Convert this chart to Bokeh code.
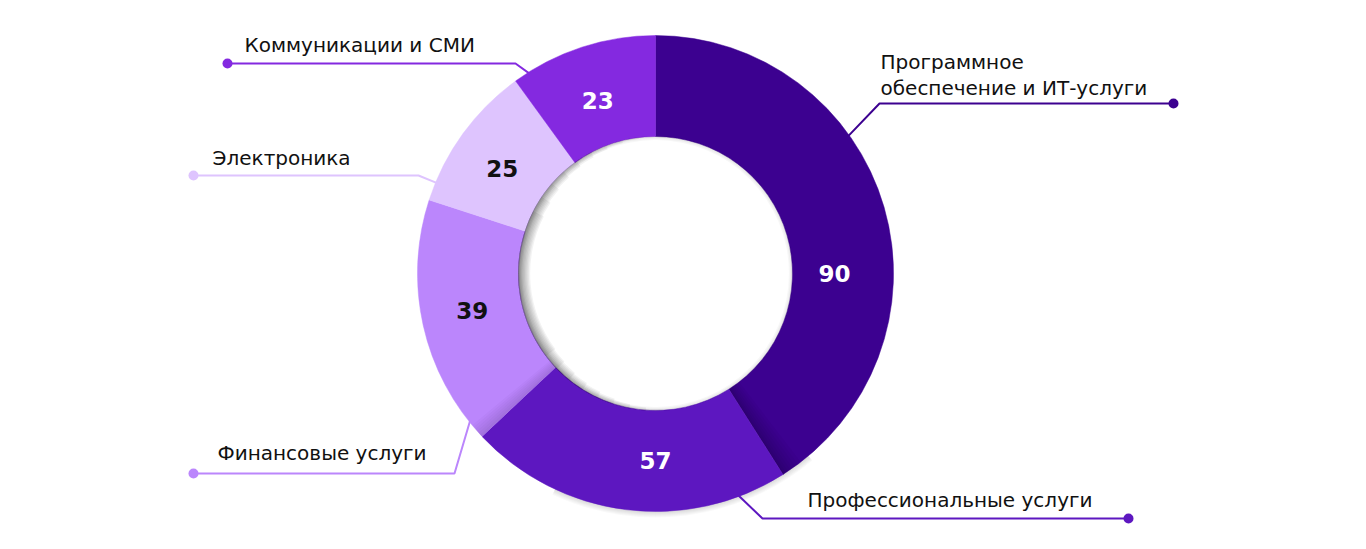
import math
from bokeh.plotting import figure
from bokeh.models import Range1d
from bokeh.embed import file_html
from bokeh.resources import INLINE
from bokeh.core.properties import value

# ---------------- data ----------------
categories = [
    "Программное\nобеспечение и ИТ-услуги",
    "Профессиональные услуги",
    "Финансовые услуги",
    "Электроника",
    "Коммуникации и СМИ",
]
values = [90, 57, 39, 25, 23]
# share of the ring occupied by each slice (percent)
shares = [41, 22, 17, 10, 10]
colors = ["#3C0190", "#5D17C0", "#BB86FC", "#DEC4FE", "#8429E0"]
value_text_colors = ["#FFFFFF", "#FFFFFF", "#111111", "#111111", "#FFFFFF"]

# ---------------- layout ----------------
W, H = 1366, 549
CX, CY = 655, H - 273
R_OUT, R_IN = 238, 137
FONT = "DejaVu Sans"

def py(y):
    return H - y

p = figure(width=W, height=H, x_range=Range1d(0, W), y_range=Range1d(0, H),
           output_backend="svg", toolbar_location=None,
           x_axis_type=None, y_axis_type=None, min_border=0)
p.outline_line_color = None
p.grid.visible = False
p.background_fill_color = "#FFFFFF"
p.border_fill_color = "#FFFFFF"

# slice angles: clockwise from 12 o'clock
starts, ends = [], []
acc = 0.0
tot = float(sum(shares))
for s in shares:
    a0 = 90 - acc / tot * 360
    acc += s
    a1 = 90 - acc / tot * 360
    starts.append(math.radians(a1))
    ends.append(math.radians(a0))

# soft outer shadow under the bottom of the ring
for k in range(6):
    p.annular_wedge(x=CX, y=CY, inner_radius=R_OUT - 2, outer_radius=R_OUT + 1 + k,
                    start_angle=math.radians(-115), end_angle=math.radians(-50),
                    fill_color="#000000", fill_alpha=0.022, line_color=None)

p.annular_wedge(x=[CX] * 5, y=[CY] * 5, inner_radius=R_IN, outer_radius=R_OUT,
                start_angle=starts, end_angle=ends, direction="anticlock",
                fill_color=colors, line_color=colors, line_width=0.5)

# shading bands near two slice borders
b90 = ends[1]  # boundary 90/57 (radians)
for k in range(8):
    p.annular_wedge(x=CX, y=CY, inner_radius=R_IN, outer_radius=R_OUT,
                    start_angle=b90, end_angle=b90 + math.radians(0.35 * (k + 1) ** 1.3),
                    fill_color="#000000", fill_alpha=0.028, line_color=None)
b25 = ends[2]  # boundary 39/25
for k in range(6):
    p.annular_wedge(x=CX, y=CY, inner_radius=R_IN, outer_radius=R_OUT,
                    start_angle=b25 - math.radians(0.6 * (k + 1)), end_angle=b25,
                    fill_color="#3a2060", fill_alpha=0.03, line_color=None)

# soft shadow inside the hole, mostly on its left side
for k in range(1, 10):
    half = 95 - 7 * k
    p.annular_wedge(x=CX, y=CY, inner_radius=R_IN - 1.3 * k, outer_radius=R_IN + 0.5,
                    start_angle=math.radians(185 - half), end_angle=math.radians(185 + half),
                    fill_color="#000000", fill_alpha=0.05, line_color=None)
for k in range(1, 4):
    p.annular_wedge(x=CX, y=CY, inner_radius=R_IN - 1.2 * k, outer_radius=R_IN + 0.5,
                    start_angle=0, end_angle=2 * math.pi,
                    fill_color="#000000", fill_alpha=0.03, line_color=None)

# value labels
label_deg = [0, -90, 191.5, 145.5, 108.5]
label_r = [179, 187, 187, 186, 182]
vx = [CX + r * math.cos(math.radians(a)) for r, a in zip(label_r, label_deg)]
vy = [CY + r * math.sin(math.radians(a)) for r, a in zip(label_r, label_deg)]
p.text(x=vx, y=vy, text=[str(v) for v in values], text_color=value_text_colors,
       text_font=value(FONT), text_font_style="bold", text_font_size="23px",
       text_align="center", text_baseline="middle")

# leader lines
leader_deg = [35.5, -69.5, 218.5, 157.5, 122.3]
elbow_px = [(879, 103), (762, 518), (454, 473), (418, 175), (515, 63)]
dot_px = [(1173, 103), (1128, 518), (193, 473), (193, 175), (227, 63)]
for a, (ex, ey), (dx, dy), c in zip(leader_deg, elbow_px, dot_px, colors):
    sx = CX + (R_OUT - 1) * math.cos(math.radians(a))
    sy = CY + (R_OUT - 1) * math.sin(math.radians(a))
    p.line(x=[sx, ex, dx], y=[sy, py(ey), py(dy)], line_color=c, line_width=2)
    p.circle(x=dx, y=py(dy), radius=5, fill_color=c, line_color=None)

# category labels
text_x = [880, 807, 217, 212, 244]
text_top = [49, 487, 440, 145, 32]
p.text(x=text_x, y=[py(t) for t in text_top], text=categories,
       text_font=value(FONT), text_font_size="20px", text_color="#111111",
       text_align="left", text_baseline="top", text_line_height=1.12)

open("out.html", "w").write(file_html(p, INLINE))
